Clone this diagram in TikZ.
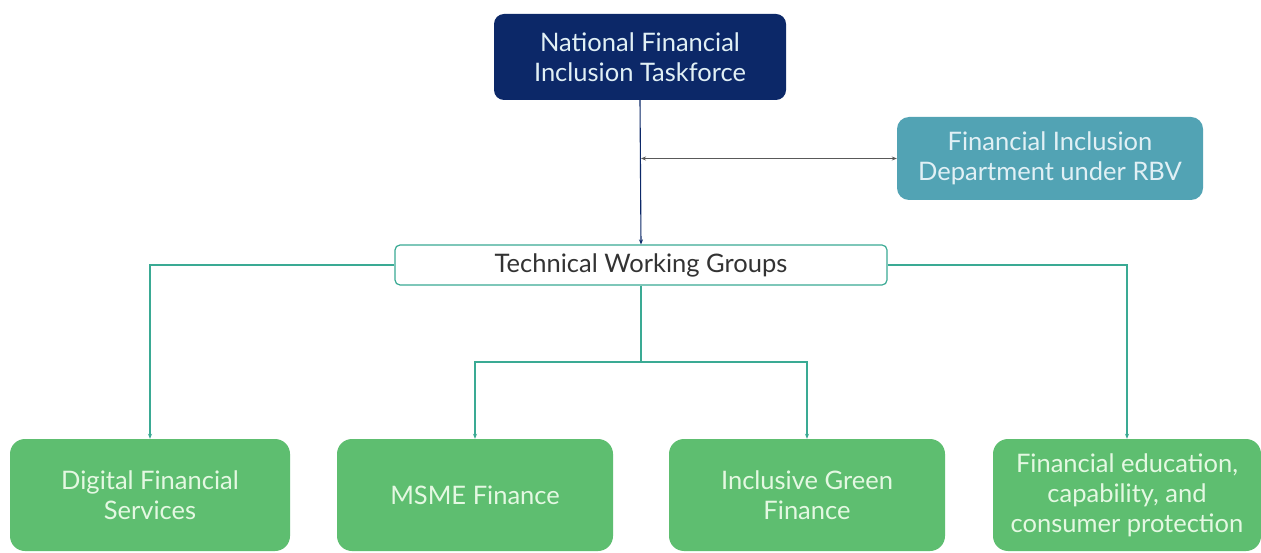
\documentclass[tikz,border=0pt]{standalone}
\usepackage{fontspec}
\setmainfont{Lato}
\usetikzlibrary{arrows.meta}
\definecolor{navy}{RGB}{12,40,104}
\definecolor{tealbox}{RGB}{82,163,180}
\definecolor{greenbox}{RGB}{94,190,112}
\definecolor{conn}{RGB}{58,170,148}
\definecolor{lighttxt}{RGB}{225,240,245}
\definecolor{greentxt}{RGB}{228,248,226}
\begin{document}
\begin{tikzpicture}[x=1pt,y=-1pt,
  box/.style={rectangle, rounded corners=12pt, align=center, inner sep=0pt, font=\fontsize{25.5}{30}\selectfont},
  topbox/.style={box, fill=navy, text=lighttxt, minimum width=292pt, minimum height=86pt, rounded corners=10pt},
  fidbox/.style={box, fill=tealbox, text=lighttxt, minimum width=306pt, minimum height=83pt},
  twgbox/.style={box, fill=white, draw=conn, line width=1.2pt, text=black!80, minimum width=492pt, minimum height=40pt, rounded corners=5pt},
  grbox/.style={box, fill=greenbox, text=greentxt, minimum height=112pt, rounded corners=15pt},
  conline/.style={draw=conn, line width=1.1pt, -{Stealth[length=5pt,width=4pt]}},
  navline/.style={draw=navy, line width=1.1pt, -{Stealth[length=5pt,width=4pt]}},
  dblline/.style={draw=black!65, line width=1.4pt, {Stealth[length=5pt,width=4pt]}-{Stealth[length=5pt,width=4pt]}}
]
\useasboundingbox (0,0) rectangle (1261,553);
\fill[white] (0,0) rectangle (1261,553);

\node[topbox] (top) at (640,57) {National Financial\\Inclusion Taskforce};
\node[fidbox] (fid) at (1050,158.5) {Financial Inclusion\\Department under RBV};
\node[twgbox] (twg) at (641,265) {Technical Working Groups};
\node[grbox, minimum width=280pt] (dfs) at (150,495) {Digital Financial\\Services};
\node[grbox, minimum width=276pt] (msme) at (475,495) {MSME Finance};
\node[grbox, minimum width=276pt] (igf) at (807,495) {Inclusive Green\\Finance};
\node[grbox, minimum width=268pt] (fe) at (1127,495) {Financial education,\\capability, and\\consumer protection};

\draw[navline] (top.south) -- (twg.north);
\coordinate (j) at (top.south |- fid.west);
\draw[dblline] ([xshift=1pt]j) -- (fid.west);

\draw[conline] (twg.west) -| (dfs.north);
\draw[conline] (twg.east) -| (fe.north);
\coordinate (mid) at (641,362);
\draw[draw=conn, line width=1.1pt] (twg.south) -- (mid);
\draw[conline] (mid) -| (msme.north);
\draw[conline] (mid) -| (igf.north);
\end{tikzpicture}
\end{document}
